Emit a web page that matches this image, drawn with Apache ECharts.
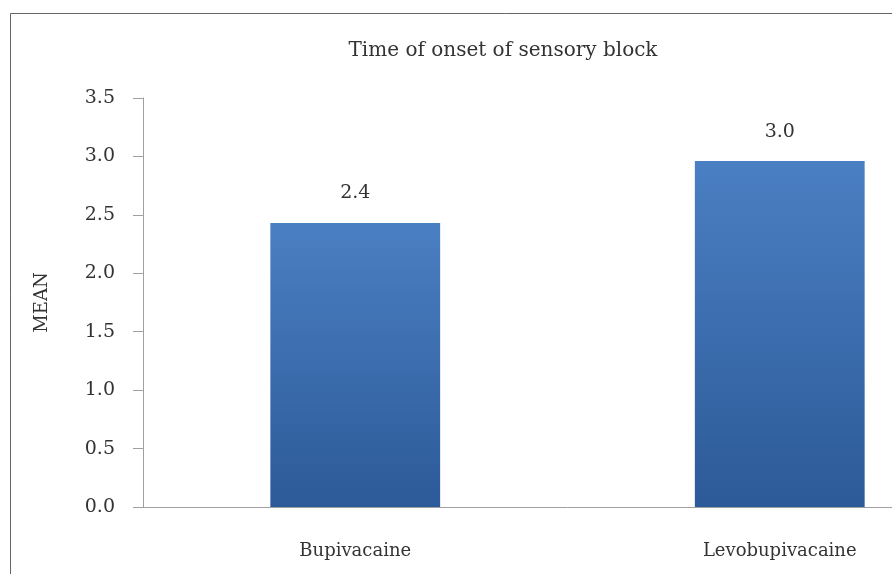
<!DOCTYPE html>
<html>
<head>
<meta charset="utf-8">
<script src="https://cdn.jsdelivr.net/npm/echarts@6/dist/echarts.min.js"></script>
<style>
html,body{margin:0;padding:0;background:#fff;overflow:hidden;width:892px;height:574px;}
#chart{width:1000px;height:574px;}
</style>
</head>
<body>
<div id="chart"></div>
<script>
const titleText = "Time of onset of sensory block";
const categories = ["Bupivacaine", "Levobupivacaine"];
const meanValues = [2.43, 2.96];
const valueLabels = ["2.4", "3.0"];
const yAxisName = "MEAN";

const FONT = "DejaVu Serif";
const chart = echarts.init(document.getElementById('chart'));
chart.setOption({
  backgroundColor: '#fff',
  animation: false,
  title: {
    text: titleText,
    left: 498, top: 36, textAlign: 'center',
    textStyle: {fontFamily: FONT, fontSize: 20, fontWeight: 'normal', color: '#333'}
  },
  graphic: [{
    type: 'rect',
    shape: {x: 10.5, y: 13.5, width: 1200, height: 1200},
    style: {fill: 'none', stroke: '#666', lineWidth: 1}
  }],
  grid: {left: 143, top: 98, bottom: 67, right: 8, containLabel: false},
  xAxis: {
    type: 'category', data: categories,
    axisLine: {lineStyle: {color: '#a0a0a0', width: 1}},
    axisTick: {show: false},
    axisLabel: {fontFamily: FONT, fontSize: 18, color: '#333', margin: 35}
  },
  yAxis: {
    type: 'value', min: 0, max: 3.5, interval: 0.5,
    name: yAxisName, nameLocation: 'middle', nameGap: 92, nameRotate: 90,
    nameTextStyle: {fontFamily: FONT, fontSize: 18, color: '#333'},
    axisLine: {show: true, lineStyle: {color: '#a0a0a0', width: 1}},
    axisTick: {show: true, length: 10, lineStyle: {color: '#a0a0a0'}},
    splitLine: {show: false},
    axisLabel: {fontFamily: FONT, fontSize: 19, color: '#333', margin: 28,
      formatter: v => v.toFixed(1)}
  },
  series: [{
    type: 'bar', data: meanValues, barWidth: '40%',
    itemStyle: {
      color: new echarts.graphic.LinearGradient(0, 0, 0, 1, [
        {offset: 0, color: '#4a7fc3'},
        {offset: 1, color: '#2d5a98'}
      ])
    },
    label: {
      show: true, position: 'top', distance: 20,
      formatter: p => valueLabels[p.dataIndex],
      fontFamily: FONT, fontSize: 19, color: '#333'
    }
  }]
});
</script>
</body>
</html>
